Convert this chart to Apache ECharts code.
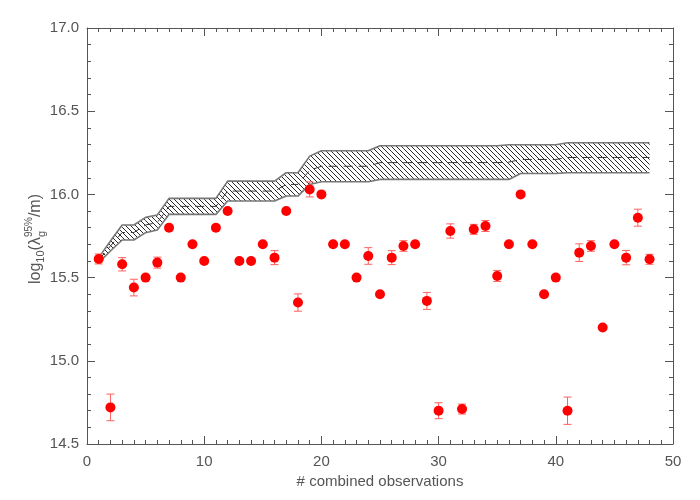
<!DOCTYPE html>
<html><head><meta charset="utf-8">
<script src="https://cdn.jsdelivr.net/npm/echarts@6/dist/echarts.min.js"></script>
<style>html,body{margin:0;padding:0;background:#fff}#c{width:700px;height:500px}</style>
</head><body><div id="c"></div>
<script>
// observation index
var obsX = [1,2,3,4,5,6,7,8,9,10,11,12,13,14,15,16,17,18,19,20,21,22,23,24,25,26,27,28,29,30,31,32,33,34,35,36,37,38,39,40,41,42,43,44,45,46,47,48];
// log10(lambda) values
var obsY = [15.612,14.72,15.58,15.44,15.5,15.59,15.8,15.5,15.7,15.6,15.8,15.9,15.6,15.6,15.7,15.62,15.9,15.35,16.03,16.0,
            15.7,15.7,15.5,15.63,15.4,15.62,15.69,15.7,15.36,14.7,15.78,14.71,15.79,15.81,15.51,15.7,16.0,15.7,15.4,15.5,
            14.7,15.65,15.69,15.2,15.7,15.62,15.86,15.61];
// symmetric errors (0 = no bar drawn)
var obsErr = [0.03,0.08,0.04,0.05,0,0.033,0,0,0,0,0,0,0,0,0,0.042,0,0.052,0.045,0,
              0,0,0,0.05,0,0.042,0.032,0,0.051,0.048,0.043,0.03,0.03,0.033,0.033,0,0,0,0,0,
              0.082,0.053,0.032,0,0,0.043,0.051,0.03];
// band edges and centre line
var bandUpper = [15.62,15.72,15.816,15.816,15.862,15.876,15.976,15.976,15.976,15.976,15.976,16.08,16.08,16.08,16.08,16.08,16.13,16.13,16.23,16.262,
                 16.262,16.262,16.262,16.262,16.292,16.292,16.292,16.292,16.292,16.292,16.292,16.292,16.292,16.292,16.292,16.298,16.298,16.298,16.298,16.298,
                 16.31,16.31,16.31,16.31,16.31,16.31,16.31,16.31];
var bandLower = [15.59,15.66,15.726,15.726,15.77,15.786,15.88,15.88,15.88,15.88,15.88,15.96,15.96,15.96,15.96,15.96,15.99,15.99,16.06,16.076,
                 16.076,16.076,16.076,16.076,16.09,16.09,16.09,16.09,16.09,16.09,16.09,16.09,16.09,16.09,16.09,16.09,16.126,16.126,16.126,16.126,
                 16.13,16.13,16.13,16.13,16.13,16.13,16.13,16.13];
var bandCenter = [15.605,15.69,15.771,15.771,15.816,15.831,15.928,15.928,15.928,15.928,15.928,16.02,16.02,16.02,16.02,16.02,16.06,16.06,16.145,16.169,
                  16.169,16.169,16.169,16.169,16.191,16.191,16.191,16.191,16.191,16.191,16.191,16.191,16.191,16.191,16.191,16.194,16.21,16.21,16.21,16.21,
                  16.222,16.222,16.222,16.222,16.222,16.222,16.222,16.222];
var xTicks = [0,10,20,30,40,50];
var yTicks = [14.5,15.0,15.5,16.0,16.5,17.0];

var FONT = 'Liberation Sans';
var GREY = '#555';

// hatch pattern
var p = 5;
var pc = document.createElement('canvas');
pc.width = p; pc.height = p;
var g = pc.getContext('2d');
g.strokeStyle = '#111'; g.lineWidth = 0.9;
[-p,0,p].forEach(function(k){ g.beginPath(); g.moveTo(k,0); g.lineTo(k+p,p); g.stroke(); });

var segData = [];
for (var i=0;i<obsX.length-1;i++) segData.push([obsX[i],bandLower[i],bandUpper[i],obsX[i+1],bandLower[i+1],bandUpper[i+1]]);
var lowerData = obsX.map(function(x,i){return [x, bandLower[i]];});
var upperData = obsX.map(function(x,i){return [x, bandUpper[i]];});
var centerData = obsX.map(function(x,i){return [x, bandCenter[i]];});
var ptData = obsX.map(function(x,i){return [x, obsY[i]];});
var errData = [];
obsX.forEach(function(x,i){ if(obsErr[i]>0) errData.push([x, obsY[i]-obsErr[i], obsY[i]+obsErr[i]]); });

var chart = echarts.init(document.getElementById('c'), null, {renderer:'canvas'});
var aLine = {show:true,onZero:false,lineStyle:{color:GREY,width:1}};
var aTick = {show:true,inside:true,length:8,lineStyle:{color:GREY}};
chart.setOption({
  animation:false,
  grid:{left:87,right:27,top:28,bottom:56},
  xAxis:[
    {type:'value',min:xTicks[0],max:xTicks[xTicks.length-1],interval:10,position:'bottom',
      axisLine:aLine,axisTick:aTick,splitLine:{show:false},
      minorTick:{show:true,splitNumber:10,length:4,lineStyle:{color:GREY}},
      axisLabel:{color:GREY,fontFamily:FONT,fontSize:15,margin:10},
      name:'# combined observations',nameLocation:'middle',nameGap:30,
      nameTextStyle:{color:GREY,fontFamily:FONT,fontSize:15}},
    {type:'value',min:xTicks[0],max:xTicks[xTicks.length-1],interval:10,position:'top',
      axisLine:aLine,axisTick:aTick,
      minorTick:{show:true,splitNumber:10,length:4,lineStyle:{color:GREY}},
      axisLabel:{show:false},splitLine:{show:false}}
  ],
  yAxis:[
    {type:'value',min:yTicks[0],max:yTicks[yTicks.length-1],interval:0.5,position:'left',
      axisLine:aLine,axisTick:aTick,
      minorTick:{show:true,splitNumber:5,length:4,lineStyle:{color:GREY}},
      axisLabel:{color:GREY,fontFamily:FONT,fontSize:15,margin:8,formatter:function(v){return v.toFixed(1);}},
      splitLine:{show:false}},
    {type:'value',min:yTicks[0],max:yTicks[yTicks.length-1],interval:0.5,position:'right',
      axisLine:aLine,axisTick:aTick,
      minorTick:{show:true,splitNumber:5,length:4,lineStyle:{color:GREY}},
      axisLabel:{show:false},splitLine:{show:false}}
  ],
  series:[
    {type:'custom',data:segData,z:1,silent:true,
      renderItem:function(params,api){
        var a=api.coord([api.value(0),api.value(1)]), b=api.coord([api.value(3),api.value(4)]),
            c=api.coord([api.value(3),api.value(5)]), d=api.coord([api.value(0),api.value(2)]);
        return {type:'polygon',shape:{points:[a,b,c,d]},style:{fill:{image:pc,repeat:'repeat'},stroke:null}};
      }},
    {type:'line',data:lowerData,symbol:'none',lineStyle:{color:'#777',width:1.6},z:2},
    {type:'line',data:upperData,symbol:'none',lineStyle:{color:'#777',width:1.6},z:2},
    {type:'line',data:centerData,symbol:'none',lineStyle:{color:'#333',width:1,type:[9,6]},z:3},
    {type:'custom',data:errData,z:4,
      renderItem:function(params,api){
        var x=api.value(0);
        var lo=api.coord([x,api.value(1)]), hi=api.coord([x,api.value(2)]);
        var w=4, st={stroke:'#ff6060',lineWidth:1};
        return {type:'group',children:[
          {type:'line',shape:{x1:lo[0],y1:lo[1],x2:hi[0],y2:hi[1]},style:st},
          {type:'line',shape:{x1:lo[0]-w,y1:lo[1],x2:lo[0]+w,y2:lo[1]},style:st},
          {type:'line',shape:{x1:hi[0]-w,y1:hi[1],x2:hi[0]+w,y2:hi[1]},style:st}
        ]};
      }},
    {type:'scatter',data:ptData,symbol:'circle',symbolSize:10,itemStyle:{color:'#ff0000',opacity:1},z:5}
  ]
});

// rotated y-axis title: log10(λ_g^95%/m)
(function(){
  var mc = document.createElement('canvas').getContext('2d');
  function w(t,s){ mc.font = s+'px '+FONT; return mc.measureText(t).width; }
  var M=16, S=11, SS=10;
  var parts = [
    {t:'log',s:M,dy:0},
    {t:'10',s:S,dy:5},
    {t:'(\u03bb',s:M,dy:0},
    {t:'95%',s:SS,dy:-7,pair:{t:'g',s:S,dy:6}},
    {t:'/m)',s:M,dy:0}
  ];
  var total=0;
  parts.forEach(function(pt){ var ww=w(pt.t,pt.s); if(pt.pair) ww=Math.max(ww,w(pt.pair.t,pt.pair.s)); pt.w=ww; total+=ww; });
  var children=[], cx=-total/2;
  parts.forEach(function(pt){
    children.push({type:'text',style:{text:pt.t,x:cx,y:pt.dy,font:pt.s+'px '+FONT,fill:GREY,textAlign:'left',textVerticalAlign:'middle'}});
    if(pt.pair) children.push({type:'text',style:{text:pt.pair.t,x:cx,y:pt.pair.dy,font:pt.pair.s+'px '+FONT,fill:GREY,textAlign:'left',textVerticalAlign:'middle'}});
    cx+=pt.w;
  });
  chart.setOption({graphic:[{type:'group',x:36,y:239,rotation:Math.PI/2,children:children}]});
})();
</script>
</body></html>
